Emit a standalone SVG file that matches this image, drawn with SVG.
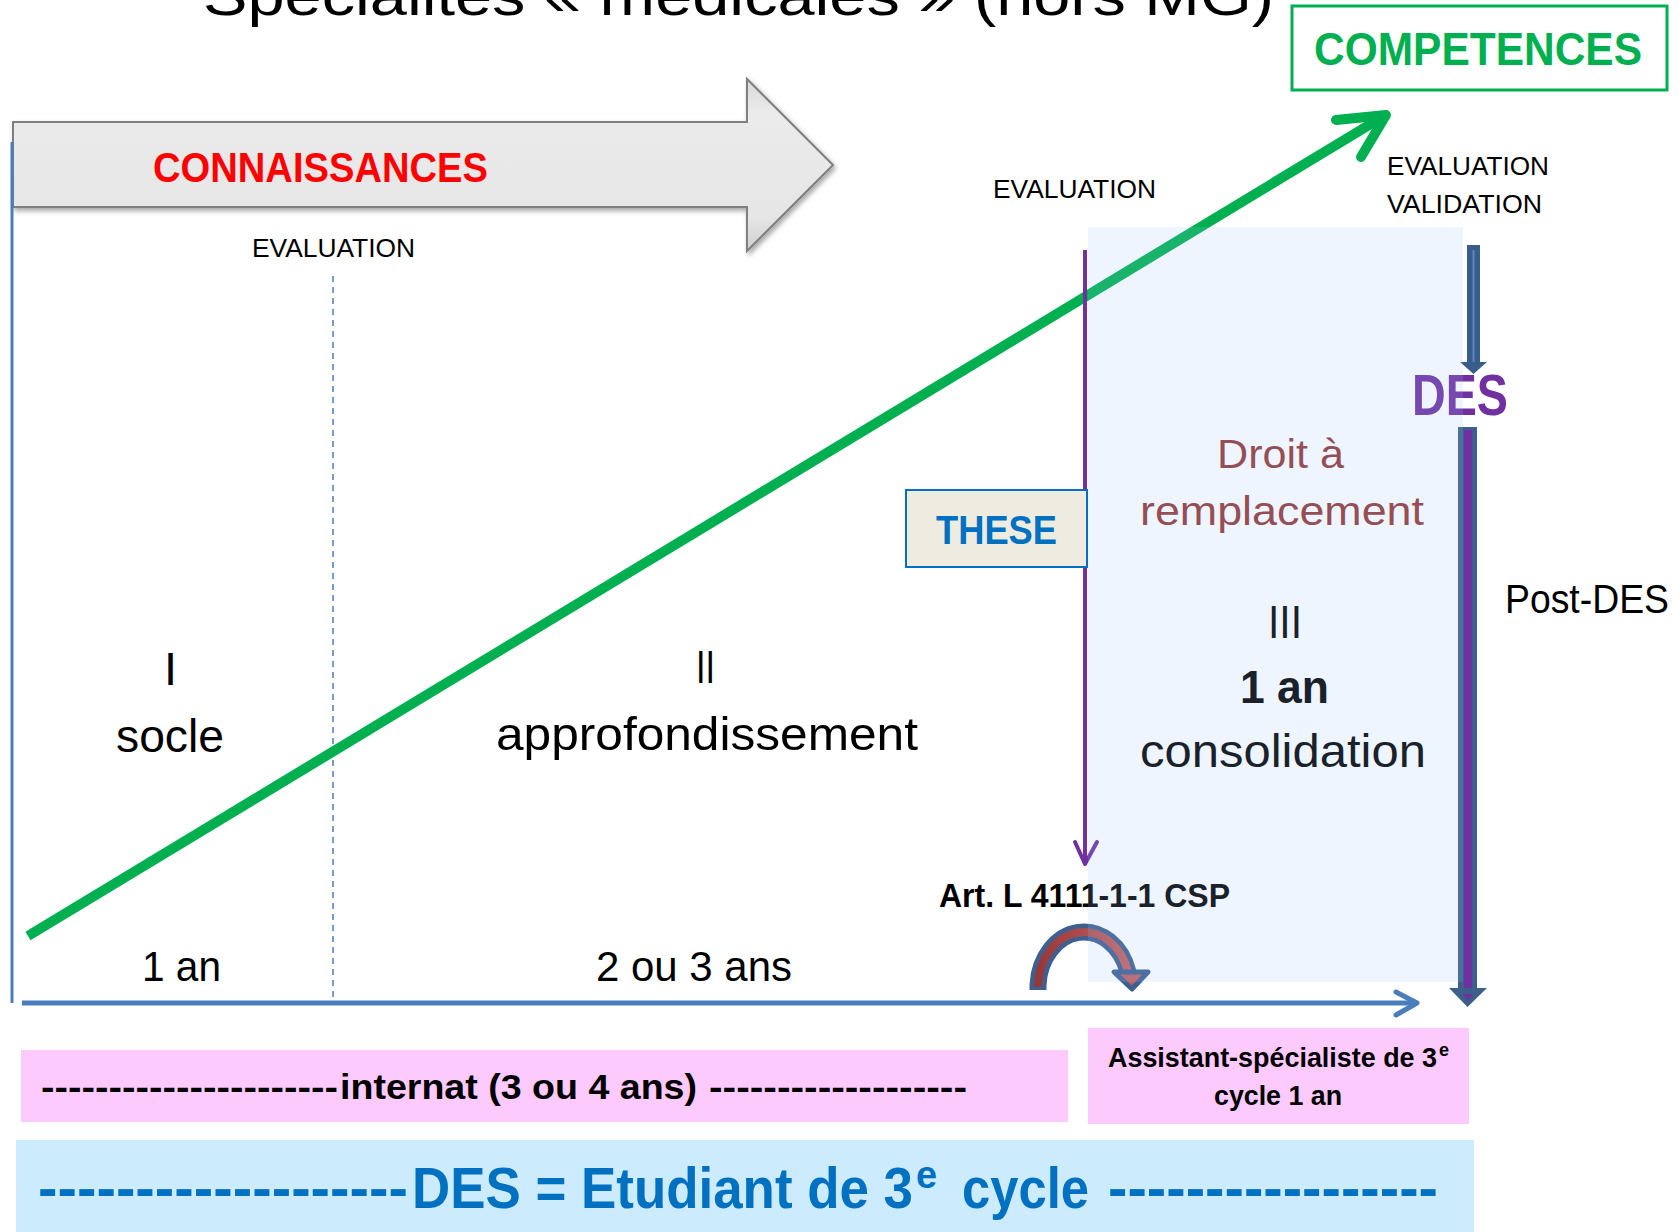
<svg xmlns="http://www.w3.org/2000/svg" width="1679" height="1232" viewBox="0 0 1679 1232">
<style>
text{font-family:"Liberation Sans",Arial,sans-serif;}
.b{font-weight:bold;}
.ax{stroke:#4a7ebb;fill:none;}
.k{fill:#000;}
.bl{fill:#0070c0;font-weight:bold;}
</style>
<defs>
<linearGradient id="gray" x1="0" y1="0" x2="0" y2="1">
<stop offset="0" stop-color="#d9d9d9"/>
<stop offset="0.2" stop-color="#ebebeb"/>
<stop offset="0.8" stop-color="#e6e6e6"/>
<stop offset="1" stop-color="#cfcfcf"/>
</linearGradient>
<linearGradient id="arcg" x1="0" y1="0" x2="1" y2="0">
<stop offset="0" stop-color="#96383a"/>
<stop offset="1" stop-color="#c4615f"/>
</linearGradient>
<filter id="sh" x="-5%" y="-10%" width="115%" height="130%">
<feDropShadow dx="2" dy="3" stdDeviation="2.5" flood-color="#000" flood-opacity="0.35"/>
</filter>
</defs>
<rect x="0" y="0" width="1679" height="1232" fill="#fff"/>

<g id="title">
<text x="203" y="15" font-size="56" textLength="1071" lengthAdjust="spacingAndGlyphs" class="k">Spécialités « médicales » (hors MG)</text>
</g>

<g id="connaissances">
<polygon points="13,122 747,122 747,79 833,165 747,251 747,207 13,207" fill="url(#gray)" stroke="#7f7f7f" stroke-width="2" filter="url(#sh)"/>
<text x="153" y="182" font-size="42" class="b" fill="#ff0000" textLength="335" lengthAdjust="spacingAndGlyphs">CONNAISSANCES</text>
</g>

<g id="competences">
<rect x="1292" y="6" width="375" height="84" fill="#fff" stroke="#00b050" stroke-width="3"/>
<text x="1314" y="65" font-size="46" class="b" fill="#00b050" textLength="328" lengthAdjust="spacingAndGlyphs">COMPETENCES</text>
</g>

<g id="connectors">
<line x1="12" y1="142" x2="12" y2="1003" class="ax" stroke-width="3"/>
<line x1="333" y1="276" x2="333" y2="998" class="ax" stroke-width="1.5" stroke-dasharray="6,5"/>
<line x1="22" y1="1003" x2="1414" y2="1003" class="ax" stroke-width="5"/>
<polyline points="1396,992 1417,1003 1396,1015" class="ax" stroke-width="5" stroke-linecap="round" stroke-linejoin="round"/>
<line x1="28" y1="936" x2="1384" y2="116" stroke="#00b050" stroke-width="10"/>
<polyline points="1336,120 1386,115 1361,157" fill="none" stroke="#00b050" stroke-width="10" stroke-linecap="round" stroke-linejoin="round"/>
<line x1="1085" y1="250" x2="1085" y2="863" stroke="#7030a0" stroke-width="4"/>
<polyline points="1075,842 1085,864 1097,842" fill="none" stroke="#7030a0" stroke-width="4" stroke-linecap="round" stroke-linejoin="round"/>
<g id="arrow-des-top">
<rect x="1467" y="245" width="13" height="118" fill="#385d8a"/>
<line x1="1473.5" y1="250" x2="1473.5" y2="365" stroke="#5b86bf" stroke-width="2"/>
<polygon points="1460,362 1487,362 1473.5,374" fill="#385d8a"/>
</g>
<g id="arrow-postdes">
<rect x="1458" y="427" width="19" height="562" fill="#3d5f8c"/>
<rect x="1464" y="430" width="8" height="565" fill="#7030a0"/>
<polygon points="1449,988 1487,988 1467.5,1007" fill="#3d5f8c"/>
<polygon points="1463,994 1473,994 1468,1001" fill="#7030a0"/>
</g>
<g id="arc-arrow">
<path d="M1038,990 L1038,985 A46,56 0 0 1 1128,972" fill="none" stroke="#3d6090" stroke-width="17"/>
<path d="M1038,987 L1038,985 A46,56 0 0 1 1128,972" fill="none" stroke="url(#arcg)" stroke-width="8"/>
<polygon points="1114,972 1148,972 1132,989" fill="#c0605f" stroke="#3d6090" stroke-width="5" stroke-linejoin="round"/>
</g>
</g>

<g id="eval-1">
<text x="252" y="257" font-size="26" class="k" textLength="163" lengthAdjust="spacingAndGlyphs">EVALUATION</text>
</g>
<g id="eval-2">
<text x="993" y="198" font-size="26" class="k" textLength="163" lengthAdjust="spacingAndGlyphs">EVALUATION</text>
</g>
<g id="eval-3">
<text x="1387" y="175" font-size="26" class="k" textLength="162" lengthAdjust="spacingAndGlyphs">EVALUATION</text>
<text x="1387" y="213" font-size="26" class="k" textLength="155" lengthAdjust="spacingAndGlyphs">VALIDATION</text>
</g>

<g id="phase-1">
<text x="164" y="685" font-size="47" class="k">I</text>
<text x="116" y="752" font-size="47" class="k" textLength="108" lengthAdjust="spacingAndGlyphs">socle</text>
<text x="142" y="981" font-size="42" class="k" textLength="79" lengthAdjust="spacingAndGlyphs">1 an</text>
</g>
<g id="phase-2">
<text x="696" y="683" font-size="47" class="k" textLength="19" lengthAdjust="spacingAndGlyphs">II</text>
<text x="496" y="750" font-size="47" class="k" textLength="422" lengthAdjust="spacingAndGlyphs">approfondissement</text>
<text x="596" y="981" font-size="42" class="k" textLength="196" lengthAdjust="spacingAndGlyphs">2 ou 3 ans</text>
</g>

<g id="these">
<rect x="906" y="490" width="181" height="77" fill="#eeece1" stroke="#0070c0" stroke-width="2"/>
<text x="936" y="544" font-size="40" class="b" fill="#0070c0" textLength="121" lengthAdjust="spacingAndGlyphs">THESE</text>
</g>

<g id="phase-3">
<text x="1217" y="468" font-size="40" fill="#953735" textLength="127" lengthAdjust="spacingAndGlyphs">Droit à</text>
<text x="1140" y="525" font-size="40" fill="#953735" textLength="284" lengthAdjust="spacingAndGlyphs">remplacement</text>
<text x="1268" y="638" font-size="47" class="k" textLength="34" lengthAdjust="spacingAndGlyphs">III</text>
<text x="1240" y="703" font-size="47" class="b k" textLength="89" lengthAdjust="spacingAndGlyphs">1 an</text>
<text x="1140" y="767" font-size="47" class="k" textLength="286" lengthAdjust="spacingAndGlyphs">consolidation</text>
</g>

<g id="art">
<text x="939" y="907" font-size="33" class="b k" textLength="291" lengthAdjust="spacingAndGlyphs">Art. L 4111-1-1 CSP</text>
</g>

<g id="des">
<text x="1412" y="415" font-size="58" class="b" fill="#7030a0" textLength="96" lengthAdjust="spacingAndGlyphs">DES</text>
</g>

<g id="phase-3-zone">
<rect x="1088" y="227" width="375" height="755" fill="rgb(153,196,250)" fill-opacity="0.17"/>
</g>

<g id="post-des">
<text x="1505" y="613" font-size="41" class="k" textLength="164" lengthAdjust="spacingAndGlyphs">Post-DES</text>
</g>

<g id="internat">
<rect x="21" y="1050" width="1047" height="72" fill="#fdcafd"/>
<text x="41" y="1099" font-size="35" class="b k" textLength="297" lengthAdjust="spacingAndGlyphs">----------------------</text>
<text x="340" y="1099" font-size="35" class="b k" textLength="357" lengthAdjust="spacingAndGlyphs">internat (3 ou 4 ans)</text>
<text x="709" y="1099" font-size="35" class="b k" textLength="258" lengthAdjust="spacingAndGlyphs">-------------------</text>
</g>

<g id="assistant">
<rect x="1088" y="1028" width="381" height="96" fill="#fdcafd"/>
<text x="1108" y="1067" font-size="28" class="b k" textLength="329" lengthAdjust="spacingAndGlyphs">Assistant-spécialiste de 3</text>
<text x="1439" y="1056" font-size="18" class="b k">e</text>
<text x="1214" y="1105" font-size="28" class="b k" textLength="128" lengthAdjust="spacingAndGlyphs">cycle 1 an</text>
</g>

<g id="etudiant">
<rect x="16" y="1140" width="1458" height="92" fill="#ccebfd"/>
<text x="38" y="1208" font-size="58" class="bl" textLength="370" lengthAdjust="spacingAndGlyphs">-------------------</text>
<text x="412" y="1208" font-size="58" class="bl" textLength="501" lengthAdjust="spacingAndGlyphs">DES = Etudiant de 3</text>
<text x="916" y="1188" font-size="38" class="bl">e</text>
<text x="962" y="1208" font-size="58" class="bl" textLength="127" lengthAdjust="spacingAndGlyphs">cycle</text>
<text x="1108" y="1208" font-size="58" class="bl" textLength="330" lengthAdjust="spacingAndGlyphs">-----------------</text>
</g>
</svg>
